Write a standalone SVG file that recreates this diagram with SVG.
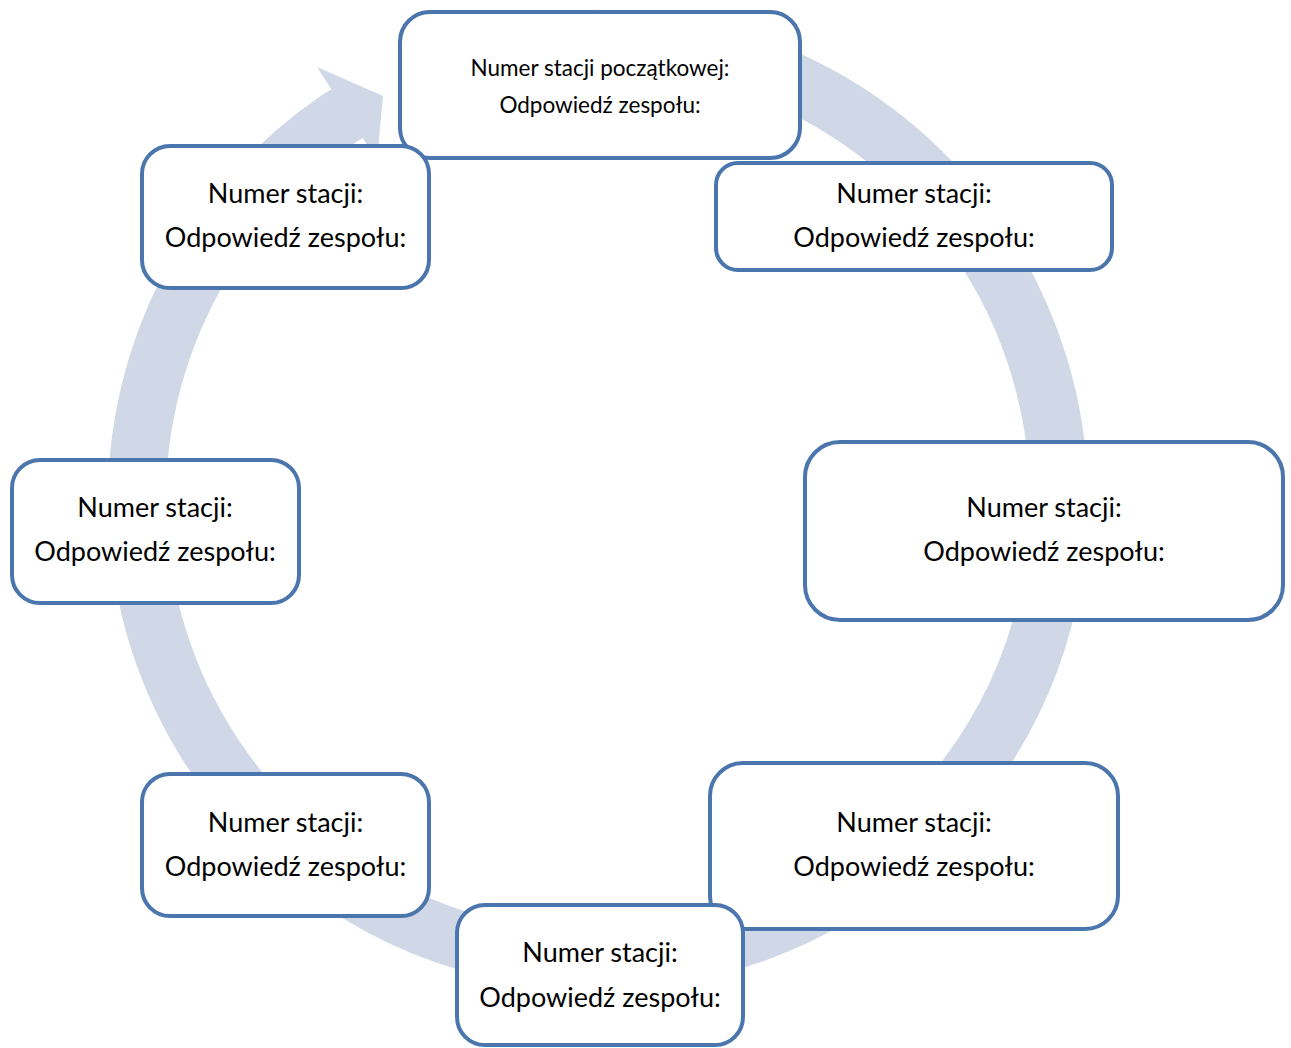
<svg xmlns="http://www.w3.org/2000/svg" width="1291" height="1048" viewBox="0 0 1291 1048">
<style>
.box{fill:#ffffff;stroke:#4A75AD;stroke-width:4}
.t{font-family:Lato,"Open Sans","DejaVu Sans",sans-serif;font-size:27px;fill:#000;text-anchor:middle}
.ts{font-size:22.5px}
.ring{fill:none;stroke:#D0D8E8;stroke-width:58}
</style>
<rect width="1291" height="1048" fill="#ffffff"/>
<g id="connectors">
<path class="ring" d="M 478.7 54.7 A 461 461 0 1 1 360.6 104.8"/>
<polygon points="317,67 383,96 377,160" fill="#D0D8E8"/>
</g>
<g id="node-top">
<rect class="box" x="400" y="12" width="400" height="146" rx="30"/>
<text class="t ts" x="600" y="76">Numer stacji początkowej:</text>
<text class="t ts" x="600" y="113">Odpowiedź zespołu:</text>
</g>
<g id="node-top-right">
<rect class="box" x="716" y="163" width="396" height="107" rx="22"/>
<text class="t" x="914" y="203">Numer stacji:</text>
<text class="t" x="914" y="247">Odpowiedź zespołu:</text>
</g>
<g id="node-top-left">
<rect class="box" x="142" y="146" width="287" height="142" rx="28"/>
<text class="t" x="285.5" y="203">Numer stacji:</text>
<text class="t" x="285.5" y="247">Odpowiedź zespołu:</text>
</g>
<g id="node-left">
<rect class="box" x="12" y="460" width="287" height="143" rx="28"/>
<text class="t" x="155" y="517">Numer stacji:</text>
<text class="t" x="155" y="561">Odpowiedź zespołu:</text>
</g>
<g id="node-right">
<rect class="box" x="805" y="442" width="478" height="178" rx="35"/>
<text class="t" x="1044" y="517">Numer stacji:</text>
<text class="t" x="1044" y="561">Odpowiedź zespołu:</text>
</g>
<g id="node-bottom-left">
<rect class="box" x="142" y="774" width="287" height="142" rx="28"/>
<text class="t" x="285.5" y="832">Numer stacji:</text>
<text class="t" x="285.5" y="876">Odpowiedź zespołu:</text>
</g>
<g id="node-bottom-right">
<rect class="box" x="710" y="763" width="408" height="166" rx="33"/>
<text class="t" x="914" y="832">Numer stacji:</text>
<text class="t" x="914" y="876">Odpowiedź zespołu:</text>
</g>
<g id="node-bottom">
<rect class="box" x="457" y="905" width="286" height="140" rx="28"/>
<text class="t" x="600" y="962">Numer stacji:</text>
<text class="t" x="600" y="1007">Odpowiedź zespołu:</text>
</g>
</svg>
